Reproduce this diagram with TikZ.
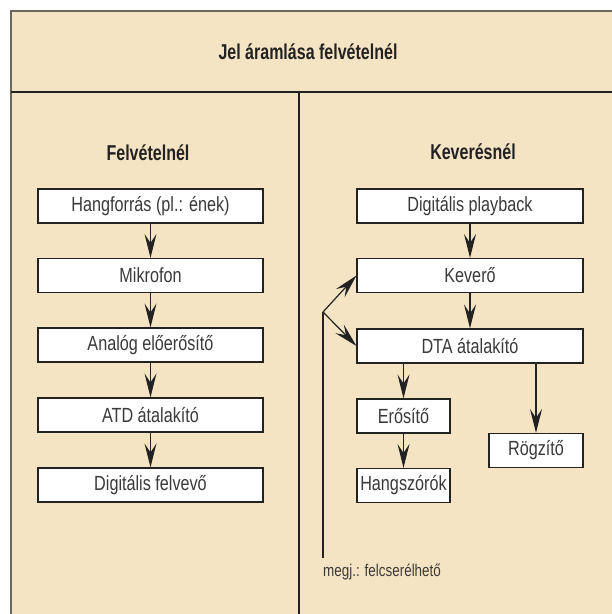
\documentclass[tikz,border=0pt]{standalone}
\usepackage{fontspec}
\setmainfont{Liberation Sans}[FakeStretch=0.79]
\newfontfamily\headfont{Liberation Sans}[FakeStretch=0.745]
\usepackage{tikz}
\usetikzlibrary{positioning,arrows.meta}
\definecolor{jbeige}{HTML}{F5E4C4}
\definecolor{jframe}{HTML}{6B6660}
\definecolor{jink}{HTML}{222222}
\definecolor{jtext}{HTML}{3A3A3A}
\tikzset{
  stage/.style={draw=jink,fill=white,line width=1.1pt,minimum height=34pt,inner sep=0pt,
    font=\fontsize{20.5}{24}\selectfont,text=jtext},
  flow/.style={jink,line width=1.2pt,-{Stealth[length=24pt,width=12pt,inset=9pt]}},
  colhead/.style={font=\headfont\bfseries\fontsize{21.5}{25}\selectfont,text=jink}
}

\begin{document}
\begin{tikzpicture}[x=1pt,y=-1pt]
  \useasboundingbox (0,0) rectangle (612,614);
  \fill[jbeige] (11,11) rectangle (612,614);
  \draw[jframe,line width=2pt] (11,614) -- (11,11) -- (612,11);
  \draw[jink,line width=1.3pt] (11,92) -- (612,92);
  \draw[jink,line width=1.3pt] (299,92) -- (299,614);
  \node[colhead] (title) at (308,52) {Jel áramlása felvételnél};
  % Felvételnél
  \node[colhead] (felv) at (148,153) {Felvételnél};
  \foreach \n/\y/\lab in {
    hang/206/{Hangforrás (pl.: ének)},
    mikr/275.5/{Mikrofon},
    analog/345/{Analóg előerősítő},
    atd/415/{ATD átalakító},
    rec/485/{Digitális felvevő}}
    {\node[stage,minimum width=225pt] (\n) at (150.5,\y) {\lab};}
  \foreach \a/\b in {hang/mikr,mikr/analog,analog/atd,atd/rec}
    {\draw[flow] (\a) -- (\b);}
  % Keverésnél
  \node[colhead] (kev) at (473,152) {Keverésnél};
  \node[stage,minimum width=226pt] (play) at (470,206) {Digitális playback};
  \node[stage,minimum width=226pt] (mixer) at (470,275.5) {Keverő};
  \node[stage,minimum width=226pt] (dta) at (470,346) {DTA átalakító};
  \node[stage,minimum width=93pt] (amp) at (403.5,416) {Erősítő};
  \node[stage,minimum width=93pt] (spk) at (403.5,485.5) {Hangszórók};
  \node[stage,minimum width=94pt] (rogz) at (536,450.5) {Rögzítő};
  \draw[flow] (play) -- (mixer);
  \draw[flow] (mixer) -- (dta);
  \draw[flow] (dta.south -| amp.north) -- (amp);
  \draw[flow] (amp) -- (spk);
  \draw[flow] (dta.south -| rogz.north) -- (rogz);
  % felcserelheto
  \coordinate (swap) at (323,312);
  \coordinate (swapend) at (323,558);
  \draw[jink,line width=1.2pt] (swapend) -- (swap);
  \draw[flow] (swap) -- (mixer.west);
  \draw[flow] (swap) -- (dta.west);
  \node[anchor=base west,inner sep=0pt,font=\fontsize{17}{20}\selectfont,text=jtext] (note) at (323,576) {megj.: felcserélhető};
\end{tikzpicture}
\end{document}
